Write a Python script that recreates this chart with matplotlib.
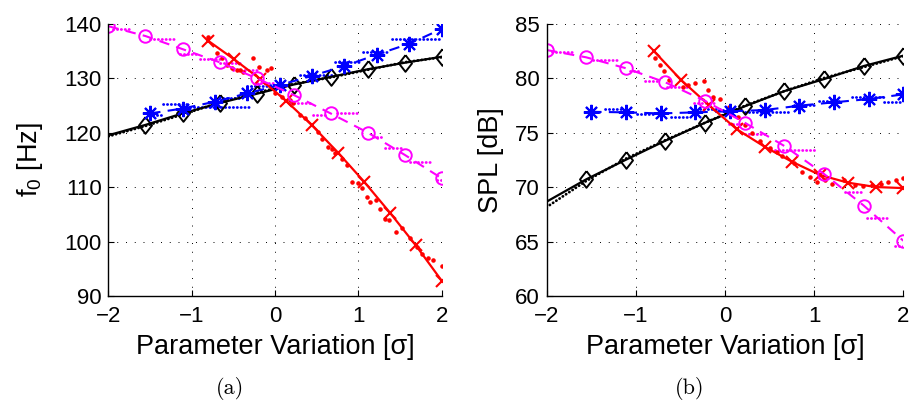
import matplotlib
matplotlib.use("Agg")
import matplotlib.pyplot as plt

plt.rcParams['font.family'] = ['Liberation Sans', 'DejaVu Sans']
plt.rcParams['mathtext.fontset'] = 'custom'
plt.rcParams['mathtext.rm'] = 'Liberation Sans'
plt.rcParams['mathtext.it'] = 'Liberation Sans'

# common parameter grids (sigma)
x_grid = [-2.0, -1.556, -1.111, -0.667, -0.222, 0.222, 0.667, 1.111, 1.556, 2.0]
x_blue = [-1.5, -1.111, -0.722, -0.333, 0.056, 0.444, 0.833, 1.222, 1.611, 2.0]
x_red = [-0.8, -0.489, -0.178, 0.133, 0.444, 0.756, 1.067, 1.378, 1.689, 2.0]

# ---- (a) f0 ----
f0_black = [119.5, 121.4, 123.5, 125.4, 127.1, 128.8, 130.2, 131.6, 132.8, 133.9]
f0_black_meas = [119.3, 121.2, 123.3, 125.5, 127.3, 128.9, 130.1, 131.5, 132.9, 133.8]
f0_mag = [139.5, 137.7, 135.3, 132.9, 129.95, 126.9, 123.5, 120.0, 115.9, 111.6]
f0_blue = [123.5, 124.4, 125.65, 127.2, 128.7, 130.4, 132.2, 134.3, 136.3, 139.0]
f0_red = [136.8, 133.4, 129.8, 125.8, 121.3, 116.3, 111.0, 105.3, 99.3, 92.8]

# measured steps: (x start, x end, value)
f0_mag_runs = [(-1.94, -1.72, 139.0), (-1.50, -1.18, 137.2), (-1.14, -0.92, 134.35),
               (-0.90, -0.66, 133.5), (-0.66, -0.42, 132.7), (-0.50, -0.22, 131.5),
               (-0.22, -0.02, 129.0), (0.02, 0.18, 128.5), (0.18, 0.44, 125.5),
               (0.46, 0.62, 123.2), (0.74, 1.0, 123.5), (1.18, 1.30, 119.2),
               (1.32, 1.54, 117.1), (1.62, 1.86, 114.6), (1.94, 2.0, 111.2)]
f0_blue_runs = [(-1.46, -1.36, 123.2), (-1.34, -1.02, 125.2), (-1.02, -0.30, 124.6),
                (-0.62, -0.40, 126.3), (-0.34, -0.02, 128.6), (-0.06, 0.14, 128.8),
                (0.30, 0.70, 130.6), (0.72, 1.02, 133.0), (1.06, 1.38, 134.7),
                (1.40, 2.0, 137.15)]
f0_red_dots_x = [-0.80, -0.70, -0.64, -0.58, -0.52, -0.46, -0.42, -0.38, -0.26, -0.19,
                 -0.10, -0.05, 0.0, 0.08, 0.18, 0.22, 0.30, 0.36, 0.52, 0.56, 0.64,
                 0.68, 0.72, 0.80, 0.86, 0.92, 0.99, 1.04, 1.10, 1.14, 1.21, 1.26,
                 1.32, 1.37, 1.45, 1.52, 1.62, 1.70, 1.76, 1.84, 1.90, 2.0]
f0_red_dots_y = [137.5, 134.5, 133.6, 132.4, 131.8, 131.5, 131.5, 131.05, 133.6, 132.1,
                 131.5, 131.8, 127.2, 126.6, 126.0, 125.4, 123.2, 122.6, 120.1, 118.9,
                 117.4, 116.9, 116.2, 115.1, 114.0, 111.0, 110.7, 109.8, 108.2, 107.3,
                 107.6, 105.9, 104.1, 103.9, 101.7, 102.4, 100.6, 99.05, 97.8, 96.9,
                 96.6, 95.55]

# ---- (b) SPL ----
spl_black = [68.65, 70.7, 72.5, 74.25, 75.9, 77.4, 78.8, 79.9, 81.1, 82.05]
spl_black_meas = [68.15, 70.55, 72.6, 74.3, 75.9, 77.45, 78.8, 80.0, 81.0, 82.0]
spl_mag = [82.57, 81.9, 80.9, 79.6, 77.9, 75.9, 73.76, 71.2, 68.3, 65.07]
spl_blue = [76.9, 76.85, 76.75, 76.85, 76.95, 77.06, 77.46, 77.77, 78.07, 78.5]
spl_red = [82.5, 79.8, 77.5, 75.3, 73.7, 72.3, 71.1, 70.4, 70.0, 69.9]

spl_mag_runs = [(-1.94, -1.70, 82.36), (-1.48, -1.18, 81.65), (-1.06, -0.95, 80.6),
                (-0.90, -0.73, 79.7), (-0.65, -0.43, 79.2), (-0.35, -0.09, 77.75),
                (0.05, 0.22, 75.8), (0.225, 0.45, 74.86), (0.52, 1.01, 73.4),
                (1.05, 1.18, 70.8), (1.35, 1.55, 69.57), (1.59, 1.85, 67.13),
                (1.91, 2.0, 64.6)]
spl_blue_runs = [(-1.46, -1.38, 76.85), (-1.34, -1.16, 77.15), (-0.99, -0.78, 76.72),
                 (-0.60, -0.39, 76.45), (-0.28, -0.06, 77.15), (-0.11, 0.19, 77.06),
                 (0.225, 0.71, 76.9), (0.77, 1.01, 77.5), (1.05, 1.31, 77.9),
                 (1.42, 1.79, 78.3), (1.78, 2.0, 77.8)]
spl_red_dots_x = [-0.78, -0.73, -0.68, -0.63, -0.47, -0.41, -0.34, -0.24, -0.19, -0.13,
                  -0.05, 0.05, 0.15, 0.225, 0.30, 0.39, 0.51, 0.58, 0.64, 0.77, 0.86,
                  0.95, 1.03, 1.12, 1.20, 1.33, 1.46, 1.55, 1.65, 1.75, 1.83, 1.92, 2.0]
spl_red_dots_y = [81.8, 81.2, 80.6, 79.8, 79.2, 79.4, 79.5, 79.7, 78.9, 78.3,
                  78.1, 77.3, 76.4, 75.7, 75.0, 74.2, 73.55, 73.2, 72.8, 72.2, 71.4,
                  70.9, 70.5, 70.6, 70.3, 70.6, 70.2, 70.1, 70.2, 70.3, 70.5, 70.6, 70.8]

MAGENTA = '#ff00ff'
BLUE = '#0000ff'
RED = '#ff0000'
diamond = [(0, 1), (0.78, 0), (0, -1), (-0.78, 0), (0, 1)]
dot_style = dict(linestyle=(0, (0.1, 1.3)), dash_capstyle='round', linewidth=2.0)


def draw_runs(ax, runs, color):
    for x0, x1, v in runs:
        ax.plot([x0, x1], [v, v], color=color, **dot_style)


def draw_panel(ax, black, black_meas, mag, mag_runs, blue, blue_runs, red,
               red_dx, red_dy):
    # measured data (dots)
    ax.plot(x_grid, black_meas, color='k', **dot_style)
    draw_runs(ax, blue_runs, BLUE)
    draw_runs(ax, mag_runs, MAGENTA)
    ax.plot(red_dx, red_dy, '.', color=RED, markersize=4.5)
    # fitted curves
    ax.plot(x_grid, black, '-', color='k', linewidth=1.6, marker=diamond,
            markersize=12, markerfacecolor='none', markeredgewidth=1.4,
            markevery=list(range(1, len(x_grid))))
    ax.plot(x_blue, blue, color=BLUE, linewidth=1.5, dashes=(5, 3.5),
            marker=(8, 2, 0), markersize=11, markeredgewidth=1.5)
    ax.plot(x_red, red, '-', color=RED, linewidth=1.6, marker='x',
            markersize=8, markeredgewidth=1.5)
    ax.plot(x_grid, mag, color=MAGENTA, linewidth=1.5, dashes=(5, 3.5), marker='o',
            markersize=9, markerfacecolor='none', markeredgewidth=1.4)

    ax.set_xlim(-2, 2)
    ax.set_xticks([-2, -1, 0, 1, 2])
    ax.grid(True, color='k', linestyle=(0, (1, 8)), linewidth=0.7)
    ax.spines['top'].set_visible(False)
    ax.spines['right'].set_visible(False)
    ax.spines['left'].set_linewidth(1.0)
    ax.spines['bottom'].set_linewidth(1.0)
    ax.tick_params(direction='in', length=4, width=0.8, labelsize=16,
                   top=False, right=False)
    ax.tick_params(axis='x', pad=7)
    ax.tick_params(axis='y', pad=5)
    ax.set_xlabel('Parameter Variation [σ]', fontsize=19.5)
    ax.xaxis.set_label_coords(0.5, -0.14)


fig = plt.figure(figsize=(9.13, 4.04), dpi=100)
ax1 = fig.add_axes([0.1188, 0.2673, 0.365, 0.6745])
ax2 = fig.add_axes([0.5986, 0.2673, 0.3908, 0.6745])

draw_panel(ax1, f0_black, f0_black_meas, f0_mag, f0_mag_runs, f0_blue, f0_blue_runs,
           f0_red, f0_red_dots_x, f0_red_dots_y)
ax1.set_ylim(90, 140)
ax1.set_yticks([90, 100, 110, 120, 130, 140])
ax1.set_ylabel(r'f$_\mathrm{0}$ [Hz]', fontsize=19.5)
ax1.yaxis.set_label_coords(-0.19, 0.5)

draw_panel(ax2, spl_black, spl_black_meas, spl_mag, spl_mag_runs, spl_blue,
           spl_blue_runs, spl_red, spl_red_dots_x, spl_red_dots_y)
ax2.set_ylim(60, 85)
ax2.set_yticks([60, 65, 70, 75, 80, 85])
ax2.set_ylabel('SPL [dB]', fontsize=19.5)
ax2.yaxis.set_label_coords(-0.12, 0.5)

fig.text(230 / 913, 1 - 389 / 404, '(a)', fontname='cmr10', fontsize=16,
         ha='center', va='center')
fig.text(690 / 913, 1 - 389 / 404, '(b)', fontname='cmr10', fontsize=16,
         ha='center', va='center')

fig.savefig('out.png', dpi=100)
